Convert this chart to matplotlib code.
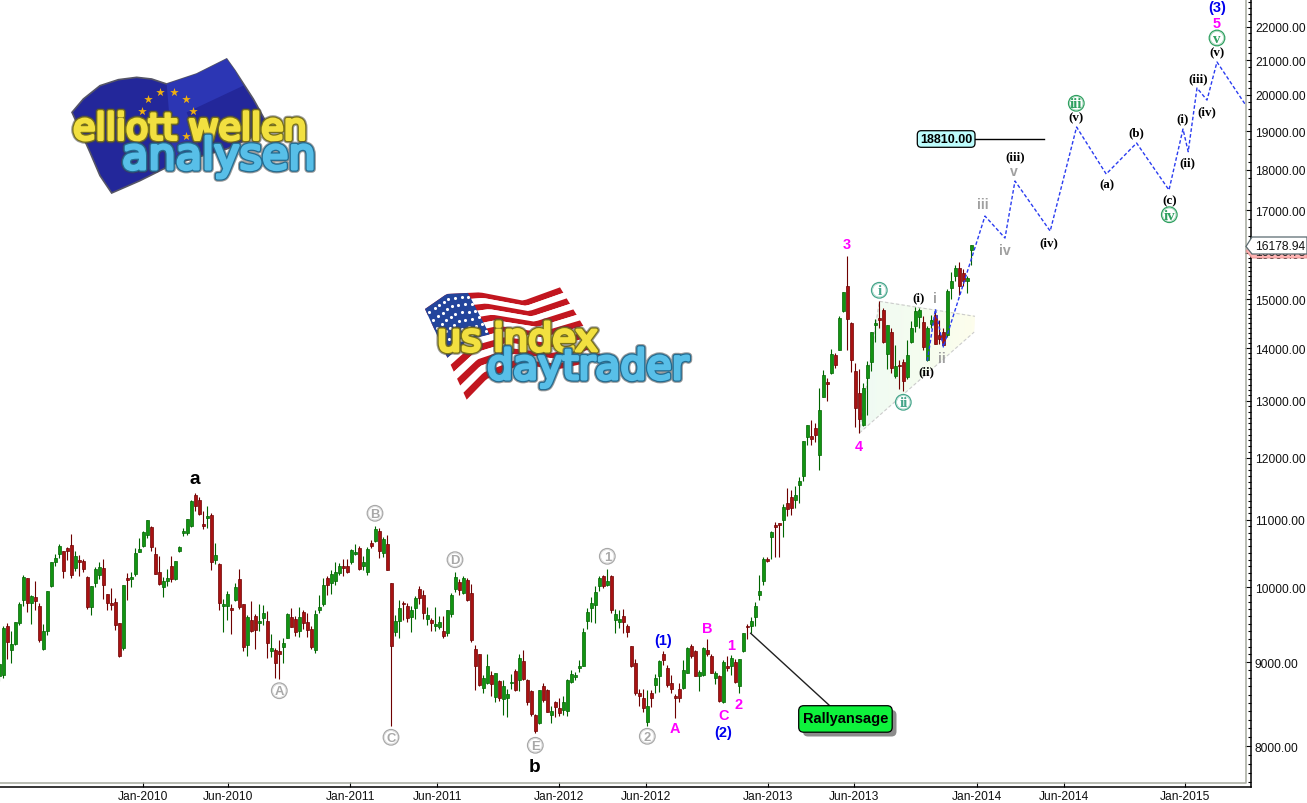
import numpy as np
import matplotlib
matplotlib.use("Agg")
import matplotlib.pyplot as plt
import matplotlib.ticker as ticker
import matplotlib.patheffects as pe
from matplotlib.patches import Circle, FancyBboxPatch, Polygon

W, H = 1307, 804
plt.rcParams["font.family"] = ["Liberation Sans", "DejaVu Sans"]

highs = [8985,9478,9509,9403,9531,9794,10176,10137,9896,10090,
    9780,9500,9951,10366,10482,10624,10526,10585,10777,10526,
    10463,10405,10157,10021,10288,10361,10410,9910,9988,9854,
    9513,10035,10201,10215,10565,10721,10833,10991,10899,10580,
    10448,10142,10264,10448,10385,10594,10879,11011,11316,11417,
    11353,11129,11209,11103,10640,10346,9840,9956,9771,10062,
    10264,9771,9620,9812,9633,9766,9757,9678,9367,9178,
    9283,9310,9642,9711,9602,9724,9692,9646,9478,9692,
    9896,10133,10167,10244,10361,10351,10410,10410,10555,10630,
    10604,10458,10580,10696,10899,10869,10731,10767,
    10060,9621,9826,9816,9783,9737,9882,10017,9957,9724,
    9581,9724,9612,9603,9690,9920,10224,10120,10158,10130,
    10050,9223,9108,8846,9108,8895,8866,8785,8773,8671,
    8854,8917,9100,9159,8793,8662,8366,8662,8740,8671,
    8467,8525,8562,8582,8793,8908,8874,9023,9447,9710,
    9863,10027,10167,10177,10263,10177,9701,9688,9701,9496,
    9206,9044,8671,8671,8658,8662,8854,9023,9142,8968,
    8841,8610,8740,9023,9194,9236,9159,8904,9194,9300,
    9108,8895,8841,9023,9078,9087,9044,9044,9376,9501,
    9590,9793,10177,10435,10430,
    10831,10960,10950,11248,11498,11471,11526,11679,12290,12568,
    12658,12598,13241,13580,13423,13989,13903,14646,15154,15935,
    14522,13706,13599,13329,13745,14331,14591,14957,14812,14467,
    14398,14068,13778,13791,14166,14556,14833,14812,14646,14439,
    14674,14784,14577,14412,15219,15581,15740,15813,15653,15506,16193]

lows = [8770,8802,9043,8993,9221,9487,9748,9655,9504,9692,
    9256,9157,9358,10011,10303,10429,10133,10395,10137,10240,
    10162,10215,9701,9624,10011,10118,9840,9692,9692,9425,
    9072,9161,9831,10011,10167,10517,10589,10716,10531,10191,
    10035,9873,10016,10081,10104,10517,10747,10772,10894,11129,
    11072,10859,10879,10254,10337,9692,9398,9558,9367,9817,
    9701,9145,9085,9389,9170,9411,9487,9052,9072,8802,
    8790,8993,9310,9456,9345,9327,9434,9323,9170,9119,
    9646,9748,9896,9910,10035,10176,10167,10206,10337,10468,
    10254,10254,10176,10565,10665,10424,10439,10249,
    8223,9345,9318,9554,9523,9398,9567,9770,9567,9487,
    9407,9411,9434,9318,9345,9590,9934,9887,9910,9816,
    9257,8662,8711,8622,8725,8582,8509,8529,8358,8339,
    8671,8638,8650,8785,8475,8351,8145,8254,8509,8389,
    8265,8331,8351,8362,8351,8744,8773,8874,8951,9434,
    9523,9514,9943,9990,10013,9643,9380,9443,9380,9331,
    8947,8593,8467,8389,8234,8455,8622,8630,8968,8687,
    8622,8327,8517,8671,8862,9053,8833,8650,8833,9074,
    8866,8728,8517,8496,8891,8841,8736,8622,9130,9300,
    9376,9469,9831,10035,10371,
    10408,10433,10443,10742,11054,11065,11180,11258,11608,12221,
    12210,12273,11804,13078,13006,13504,13618,13956,14729,13969,
    13549,12538,12421,12556,12754,13567,14120,14405,14107,13599,
    13523,13429,13222,13190,13398,14107,14318,14405,13956,13745,
    14405,14087,14087,14041,14219,15005,15397,15089,15291,15130,15740]

opens = [8830,8845,9473,9157,9234,9513,9826,10132,9785,9863,
    9743,9170,9411,10025,10361,10487,10521,10565,10614,10283,
    10395,10380,10147,9734,10067,10181,10274,9905,9780,9794,
    9509,9182,10128,10123,10191,10517,10604,10772,10884,10478,
    10215,10011,10094,10303,10118,10526,10803,10792,10909,11385,
    11305,10930,11032,11072,10400,10337,9748,9739,9711,9831,
    10118,9766,9225,9549,9602,9513,9575,9535,9149,9153,
    9140,9199,9319,9589,9567,9407,9655,9522,9434,9157,
    9687,9775,10137,10067,10090,10201,10303,10303,10361,10478,
    10570,10303,10225,10640,10675,10823,10497,10630,
    10060,9398,9545,9788,9746,9599,9710,9980,9896,9567,
    9554,9478,9465,9407,9384,9639,9980,10074,9920,10101,
    9920,9172,9100,8683,8738,8841,8570,8769,8549,8565,
    8740,8891,8773,9019,8781,8646,8358,8265,8711,8654,
    8362,8509,8440,8416,8405,8752,8816,8934,8959,9532,
    9715,9760,10013,10158,10035,10158,9558,9523,9603,9469,
    9206,8989,8618,8562,8280,8622,8720,8833,9108,8925,
    8740,8586,8667,8683,8870,9206,9147,8833,8841,9155,
    9078,8809,8833,8509,8955,8959,9006,8699,9138,9478,
    9478,9590,9896,10096,10405,
    10741,10918,10950,10998,11263,11352,11310,11553,11689,12364,
    12376,12508,12056,13078,13348,13523,13863,13956,14763,15286,
    14508,13561,13146,12574,13417,13738,14474,14612,14777,13896,
    14325,13473,13674,13725,13436,14120,14446,14619,14529,13778,
    14481,14674,14265,14318,14265,15240,15506,15667,15558,15397,16086]

closes = [8980,9447,9265,9234,9522,9771,10147,9785,9882,9812,
    9287,9403,9951,10366,10424,10599,10240,10531,10181,10448,
    10371,10269,9729,10016,10264,10293,10039,9785,9757,9491,
    9085,10030,10104,10142,10497,10555,10813,10991,10589,10196,
    10053,10094,10128,10118,10375,10585,10828,11006,11295,11209,
    11088,10909,11052,10361,10468,9785,9771,9905,9692,10006,
    9734,9199,9593,9407,9425,9540,9642,9252,9178,8993,
    9111,9247,9633,9465,9398,9593,9509,9425,9199,9633,
    9724,10035,10035,10186,10215,10303,10279,10225,10545,10507,
    10264,10361,10555,10604,10859,10531,10701,10254,
    9206,9536,9715,9765,9585,9688,9854,9859,9652,9621,
    9518,9501,9523,9340,9688,9892,10145,9966,10139,9826,
    9287,8959,8719,8801,8955,8725,8862,8558,8707,8610,
    8752,8662,9053,8797,8517,8370,8168,8654,8541,8397,
    8405,8455,8382,8509,8781,8854,8846,8955,9389,9657,
    9783,9934,10130,10013,10092,9685,9639,9567,9523,9389,
    8955,8622,8578,8440,8459,8565,8801,9015,9023,8720,
    8671,8565,8558,8904,9177,9074,8833,8883,9177,9108,
    8870,8866,8529,9006,8934,9057,8760,9036,9376,9456,
    9536,9737,9952,10410,10386,
    10816,10892,10924,11196,11159,11180,11389,11619,12290,12568,
    12330,12393,12838,13486,13304,13890,13681,14612,15154,14598,
    13778,12880,12682,13241,13674,14318,14508,14577,14127,14460,
    13612,13656,13650,13379,13863,14398,14757,14777,14015,14405,
    14563,14087,14186,14074,15175,15384,15667,15291,15397,15448,16179]

# projected wave count (week number, index level)
wave_weeks = [232, 234, 236, 246.4, 251.4, 253.9, 262.7, 269.3, 276.7, 284.3,
              292.4, 295.9, 297.2, 299.4, 301.9, 304.4, 311.4]
wave_levels = [13757, 14794, 14024, 16862, 16348, 17714, 16509, 19111, 17888, 18686,
               17490, 19057, 18459, 20190, 19850, 20942, 19739]

# triangle behind the 2013 candles
tri_weeks = [215, 220, 243.9, 243.7]
tri_levels = [12426, 14955, 14643, 14323]

month_weeks = [35.83, 57.25, 87.75, 109.5, 140, 161.75, 192.25, 213.75, 244.5, 266.25, 296.5]
month_labels = ["Jan-2010", "Jun-2010", "Jan-2011", "Jun-2011", "Jan-2012", "Jun-2012",
                "Jan-2013", "Jun-2013", "Jan-2014", "Jun-2014", "Jan-2015"]
price_ticks = list(range(8000, 23000, 1000))
minor_ticks = list(range(7600, 16000, 100)) + list(range(16000, 22900, 200))

LAST_CLOSE = 16178.94
PREV_TAG = 16090.78
TARGET = 18810.00


def px(n):
    return n * 0.72


def flag_edges(top, bottom, n=40):
    u = np.linspace(0, 1, n)
    t = np.array(top, float)
    b = np.array(bottom, float)
    tu = np.linspace(0, 1, len(t))
    bu = np.linspace(0, 1, len(b))
    tx, ty = np.interp(u, tu, t[:, 0]), np.interp(u, tu, t[:, 1])
    bx, by = np.interp(u, bu, b[:, 0]), np.interp(u, bu, b[:, 1])
    return u, tx, ty, bx, by


def flag_cell(edges, u0, u1, v0, v1):
    u, tx, ty, bx, by = edges
    m = (u >= u0) & (u <= u1)
    xa = tx[m] + (bx[m] - tx[m]) * v0
    ya = ty[m] + (by[m] - ty[m]) * v0
    xb = tx[m] + (bx[m] - tx[m]) * v1
    yb = ty[m] + (by[m] - ty[m]) * v1
    return np.column_stack([np.r_[xa, xb[::-1]], np.r_[ya, yb[::-1]]])


def logo_word(ov, s, x, y, size, face, rim):
    effects = [pe.withStroke(linewidth=5.5, foreground="#44444488"),
               pe.withStroke(linewidth=4.0, foreground=rim),
               pe.withStroke(linewidth=2.2, foreground=face)]
    ov.text(x, y, s, fontsize=size, color=face, family="DejaVu Sans",
            ha="left", va="center", path_effects=effects, zorder=12)


def draw_logos(ov):
    # EU flag
    z = lambda pts: [(40 + a / 3, 50 + b / 3) for a, b in pts]
    ov.add_patch(Polygon(z([(96, 190), (130, 150), (180, 110), (235, 92), (290, 85), (335, 90), (380, 105),
                            (470, 75), (560, 30), (585, 65), (640, 150), (690, 240), (560, 300), (400, 345),
                            (300, 395), (215, 432), (180, 380), (150, 310)]),
                         fc="#23279a", ec="#555566", lw=1.2, zorder=10))
    ov.add_patch(Polygon(z([(380, 105), (470, 75), (560, 30), (585, 65), (610, 110), (440, 190),
                            (480, 300), (400, 345)]),
                         fc="#2c36b4", ec="none", zorder=10))
    stars = z([(325, 150), (360, 130), (403, 128), (438, 150), (458, 186), (305, 186), (438, 262), (455, 230)])
    ov.scatter(*zip(*stars), marker="*", s=42, c="#f0b010", zorder=11, linewidths=0)
    logo_word(ov, "elliott wellen", 73, 130, 26.3, "#f2e040", "#77701a")
    logo_word(ov, "analysen", 122, 158, 31, "#58bfe8", "#236b90")

    # US flag
    z = lambda pts: [(410 + a / 3, 280 + b / 3) for a, b in pts]
    edges = flag_edges(z([(45, 90), (110, 45), (210, 40), (340, 65), (450, 25)]),
                       z([(170, 362), (230, 300), (330, 258), (450, 270), (580, 240)]))
    for k in range(13):
        col = "#c2161f" if k % 2 == 0 else "white"
        ov.add_patch(Polygon(flag_cell(edges, 0, 1, k / 13, (k + 1) / 13), fc=col, ec="none", zorder=10))
    ov.add_patch(Polygon(flag_cell(edges, 0, 0.42, 0, 7 / 13), fc="#23459c", ec="none", zorder=10))
    dots_x, dots_y = [], []
    for a in np.linspace(0.03, 0.39, 8):
        for b in np.linspace(0.05, 0.49, 6):
            c = flag_cell(edges, a - 0.03, a + 0.03, b, b + 0.001)
            dots_x.append(c[:, 0].mean())
            dots_y.append(c[:, 1].mean())
    ov.scatter(dots_x, dots_y, s=5, c="white", zorder=11, linewidths=0)
    logo_word(ov, "us index", 437, 342, 27.5, "#f2e040", "#77701a")
    logo_word(ov, "daytrader", 487, 369, 29.5, "#58bfe8", "#236b90")


def circled(ov, s, x, y, col, size=11, serif=False):
    ov.add_patch(Circle((x, y), 7.8, fc="white", ec=col, lw=0.9, zorder=8))
    ov.add_patch(Circle((x, y), 6.6, fc="white", ec=col, lw=0.35, alpha=0.6, zorder=8))
    ov.text(x, y + 0.3, s, fontsize=px(size), color=col, fontweight="bold",
            family="Liberation Serif" if serif else "Liberation Sans",
            ha="center", va="center", zorder=9)


def plain(ov, s, x, y, col, size, family="Liberation Sans"):
    ov.text(x, y, s, fontsize=px(size), color=col, fontweight="bold", family=family,
            ha="center", va="center", zorder=9)


def draw_labels(ov):
    gray = "#a8a8a8"
    teal = "#45a58a"
    green = "#2fa060"
    for s, x, y in [("A", 279.3, 691.7), ("B", 375, 514.3), ("C", 391, 738.3), ("D", 455, 560.7),
                    ("E", 535.3, 746.3), ("1", 607.3, 557.3), ("2", 647.3, 737.3)]:
        circled(ov, s, x, y, gray, 13)
    for s, x, y in [("i", 879.3, 291.3), ("ii", 903.3, 403.3)]:
        circled(ov, s, x, y, teal, 15, True)
    for s, x, y in [("iii", 1076.3, 104.3), ("iv", 1169.3, 215.7), ("v", 1217, 39)]:
        circled(ov, s, x, y, green, 15, True)

    plain(ov, "a", 195, 480, "black", 19)
    plain(ov, "b", 534.7, 767.7, "black", 19)
    for s, x, y in [("A", 675.3, 729.3), ("B", 707.3, 629.3), ("C", 723.7, 716), ("1", 731, 646.3),
                    ("2", 738.7, 705), ("3", 846.7, 245), ("4", 858.7, 446.7), ("5", 1217, 24)]:
        plain(ov, s, x, y, "#ff00ff", 14.5)
    for s, x, y in [("(1)", 663, 641), ("(2)", 722.7, 733), ("(3)", 1216.7, 8)]:
        plain(ov, s, x, y, "#0000ee", 14.5)
    for s, x, y in [("(i)", 918.7, 298.7), ("(ii)", 926.7, 372.7), ("(iii)", 1014.7, 157.7),
                    ("(iv)", 1049.3, 243.7), ("(v)", 1076.3, 118.7), ("(a)", 1106.7, 185.3),
                    ("(b)", 1136.7, 133.7), ("(c)", 1169.3, 201), ("(i)", 1182.7, 119),
                    ("(ii)", 1187.7, 163), ("(iii)", 1197.7, 79), ("(iv)", 1207.3, 112.7),
                    ("(v)", 1217, 53)]:
        plain(ov, s, x, y, "black", 13, "Liberation Serif")
    for s, x, y in [("i", 935, 298.7), ("ii", 942.3, 359.3), ("iii", 983, 205),
                    ("v", 1014.3, 172.3), ("iv", 1005, 251)]:
        plain(ov, s, x, y, "#a0a0a0", 14, "Liberation Sans")


def draw_callouts(ov):
    # Rallyansage note
    ov.plot([750.7, 829.5], [634.3, 706.5], color="#202020", lw=1.0, zorder=6)
    ov.add_patch(FancyBboxPatch((803, 711), 93.5, 26.5, boxstyle="round,pad=0,rounding_size=5",
                                fc="#8c8c8c", ec="none", zorder=6))
    ov.add_patch(FancyBboxPatch((798.7, 706.7), 93.5, 26.5, boxstyle="round,pad=0,rounding_size=5",
                                fc="#0ef23c", ec="black", lw=0.9, zorder=7))
    ov.text(845.5, 719.5, "Rallyansage", fontsize=px(14.6), fontweight="bold", color="black",
            ha="center", va="center", zorder=8)

    # target box
    ov.plot([975, 1044], [139.7, 139.7], color="black", lw=1.0, zorder=6)
    ov.add_patch(FancyBboxPatch((917.3, 131.7), 57.7, 16.6, boxstyle="round,pad=0,rounding_size=4",
                                fc="#bdfdfd", ec="black", lw=0.9, zorder=7))
    ov.text(946.2, 140.2, f"{TARGET:.2f}", fontsize=px(12.5), fontweight="bold", color="black",
            ha="center", va="center", zorder=8)

    # price tags over the right hand axis
    ov.text(1255, -3.6, "23000.00", fontsize=px(12), color="#111111", ha="left", va="center")
    ov.add_patch(Polygon([(1246, 252), (1251, 248), (1307, 248), (1307, 259), (1252, 259)],
                         fc="#ffb4b4", ec="#e89090", lw=0.6, zorder=6))
    ov.text(1255, 253, f"{PREV_TAG:.2f}", fontsize=px(12), color="#222222", ha="left", va="center", zorder=6)
    ov.add_patch(Polygon([(1246, 247.5), (1252, 238), (1307, 238), (1307, 255), (1252, 255)],
                         fc="white", ec="#5a6a70", lw=0.9, zorder=7))
    ov.text(1255, 247, f"{LAST_CLOSE:.2f}", fontsize=px(12), color="#111111", ha="left", va="center", zorder=8)

    # inner grey frame
    ov.plot([1245.7, 1245.7, 0], [0, 783.7, 783.7], color="#a6aa9e", lw=1.1, zorder=2)


def main():
    fig = plt.figure(figsize=(W / 100, H / 100), dpi=100, facecolor="white")
    ax = fig.add_axes([0, 16 / H, 1251 / W, 788 / H])
    ax.set_yscale("log")
    ax.set_xlim(0.1675, 312.9)
    ax.set_ylim(7552, 22883)

    weeks = np.arange(len(closes))
    o, h, l, c = map(np.array, (opens, highs, lows, closes))
    up = c >= o

    # triangle fill, pale green fading into pale yellow
    tx = np.linspace(tri_weeks[0], tri_weeks[2], 60)
    grad = np.linspace(0, 1, 60)[None, :]
    cm = matplotlib.colors.LinearSegmentedColormap.from_list("tri", ["#effaf4", "#f4fcef", "#fdfdec"])
    mesh = ax.pcolormesh(tx, [7600, 22000], np.repeat(grad, 2, axis=0), cmap=cm,
                         shading="gouraud", zorder=1)
    poly = Polygon(list(zip(tri_weeks, tri_levels)), closed=True, transform=ax.transData, fc="none", ec="none")
    ax.add_patch(poly)
    mesh.set_clip_path(poly)
    ax.plot(tri_weeks[:3], tri_levels[:3], color="#cccccc", lw=0.8, ls=(0, (3, 2)), zorder=1.5)
    ax.plot([tri_weeks[0], tri_weeks[3]], [tri_levels[0], tri_levels[3]], color="#cccccc", lw=0.8,
            ls=(0, (3, 2)), zorder=1.5)

    # candles
    ax.vlines(weeks[up], l[up], h[up], color="#006400", lw=0.8, zorder=3)
    ax.vlines(weeks[~up], l[~up], h[~up], color="#6e0000", lw=0.8, zorder=3)
    ax.bar(weeks[up], (c - o)[up], bottom=o[up], width=0.65, color="#129412", edgecolor="#006400",
           linewidth=0.5, zorder=4)
    ax.bar(weeks[~up], (o - c)[~up], bottom=c[~up], width=0.65, color="#a81212", edgecolor="#6e0000",
           linewidth=0.5, zorder=4)

    # projected path
    ax.plot(wave_weeks, wave_levels, color="#2a3cf0", lw=1.0, ls=(0, (2.6, 1.6)), zorder=5, clip_on=False)

    ax.spines["top"].set_visible(False)
    ax.spines["left"].set_visible(False)
    for side in ("right", "bottom"):
        ax.spines[side].set_linewidth(1.1)
        ax.spines[side].set_color("black")

    ax.yaxis.tick_right()
    ax.yaxis.set_major_locator(ticker.FixedLocator(price_ticks))
    ax.yaxis.set_major_formatter(ticker.FormatStrFormatter("%.2f"))
    ax.yaxis.set_minor_locator(ticker.FixedLocator(minor_ticks))
    ax.yaxis.set_minor_formatter(ticker.NullFormatter())
    ax.tick_params(axis="y", which="major", direction="in", length=4.5, width=0.8, pad=2.8,
                   labelsize=px(12), labelcolor="#111111")
    ax.tick_params(axis="y", which="minor", direction="in", length=2.4, width=0.8)

    ax.xaxis.set_major_locator(ticker.FixedLocator(month_weeks))
    ax.xaxis.set_major_formatter(ticker.FixedFormatter(month_labels))
    ax.tick_params(axis="x", which="major", direction="in", length=3.4, width=0.8, pad=2.0,
                   labelsize=px(12), labelcolor="#111111")

    # pixel overlay for notes and logos
    ov = fig.add_axes([0, 0, 1, 1], facecolor="none")
    ov.set_xlim(0, W)
    ov.set_ylim(H, 0)
    ov.axis("off")

    draw_logos(ov)
    draw_labels(ov)
    draw_callouts(ov)

    fig.savefig("out.png", dpi=100, facecolor="white")
    plt.close(fig)


if __name__ == "__main__":
    main()
